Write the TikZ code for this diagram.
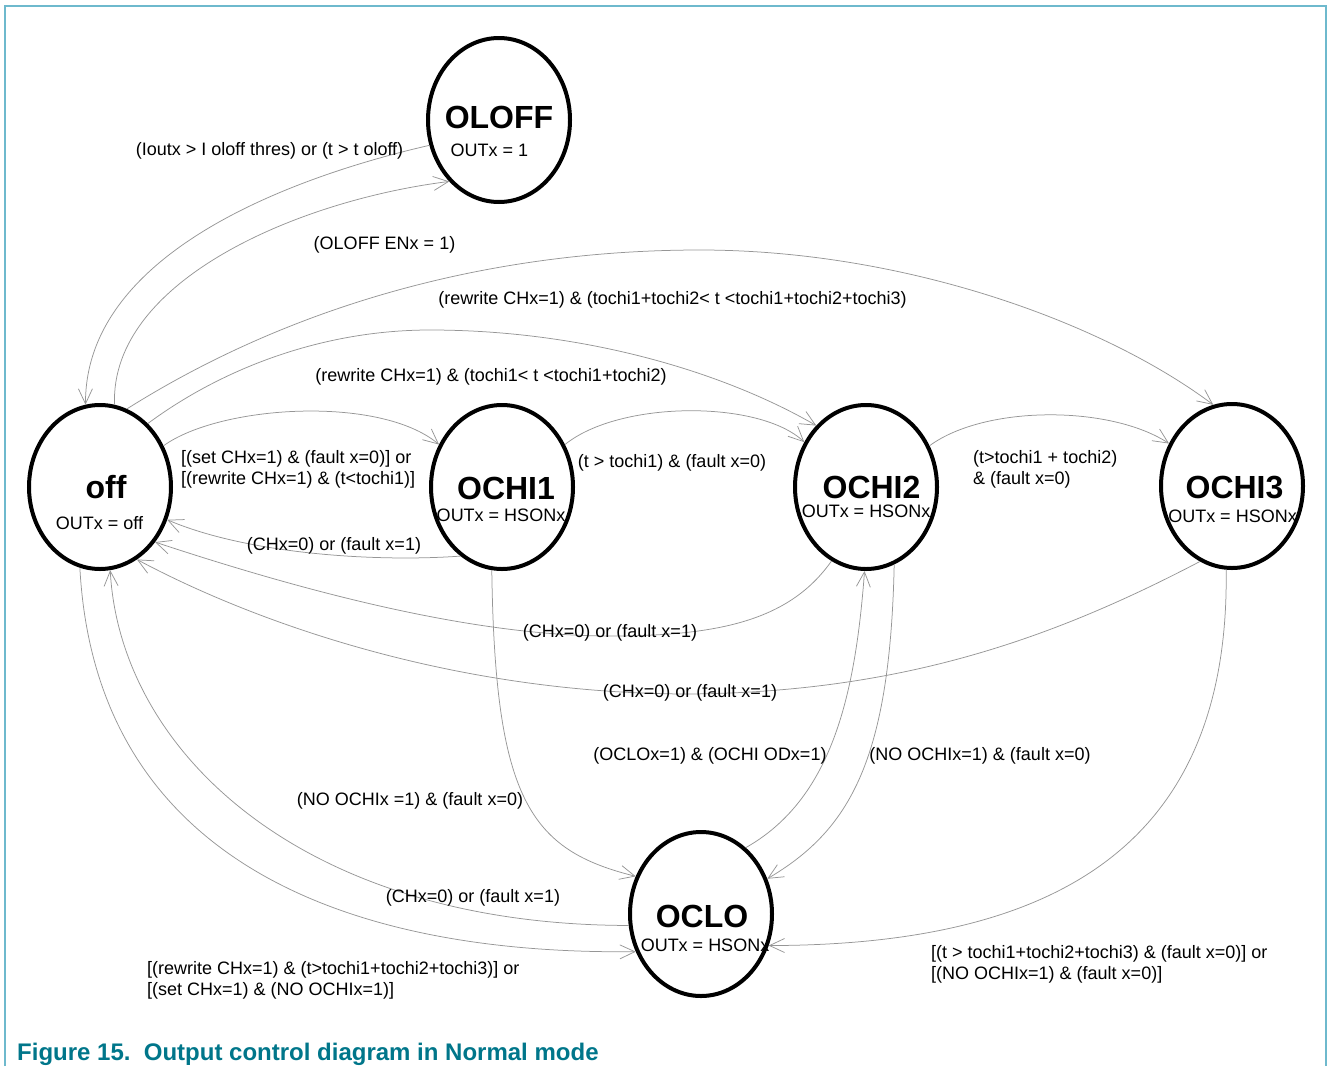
\documentclass[tikz,border=0pt]{standalone}
\usepackage{fontspec}
\setmainfont{Liberation Sans}
\usetikzlibrary{arrows.meta,shapes.geometric}
\definecolor{edgegray}{RGB}{150,150,150}
\definecolor{framecol}{RGB}{110,185,205}
\definecolor{capcol}{RGB}{0,118,138}

\begin{document}
\begin{tikzpicture}[x=1pt,y=-1pt,
  state/.style={ellipse,draw=black,line width=4pt,minimum width=142pt,minimum height=164pt,inner sep=0pt},
  title/.style={font=\fontsize{32}{34}\selectfont\bfseries,inner sep=0pt},
  sub/.style={font=\fontsize{18}{20}\selectfont,inner sep=0pt},
  lab/.style={font=\fontsize{18}{21}\selectfont,inner sep=0pt,yshift=-2pt},
  lablines/.style={lab,align=left,anchor=west},
  trans/.style={draw=edgegray,line width=0.75pt,-{Straight Barb[length=15pt,width=14pt]}}
]
\useasboundingbox (0,0) rectangle (1328,1066);

% frame
\draw[framecol,line width=1.5pt] (5,1066) -- (5,6) -- (1326,6) -- (1326,1066);

% states
\node[state] (oloff) at (499,120) {};
\node[state] (off)   at (100,487) {};
\node[state] (ochi1) at (502,487) {};
\node[state] (ochi2) at (866,487) {};
\node[state] (ochi3) at (1232,486) {};
\node[state] (oclo)  at (701,914) {};

% state texts
\node[title] (oloff-t) at (499,117) {OLOFF};
\node[sub]   (oloff-s) at (489.5,150) {OUTx = 1};
\node[title] (off-t)   at (106,487.5) {off};
\node[sub]   (off-s)   at (99.5,523) {OUTx = off};
\node[title] (ochi1-t) at (506,488) {OCHI1};
\node[sub]   (ochi1-s) at (501,515) {OUTx = HSONx};
\node[title] (ochi2-t) at (871.5,487.5) {OCHI2};
\node[sub]   (ochi2-s) at (866,511) {OUTx = HSONx};
\node[title] (ochi3-t) at (1234.5,487.5) {OCHI3};
\node[sub]   (ochi3-s) at (1232.5,516) {OUTx = HSONx};
\node[title] (oclo-t)  at (702,916.5) {OCLO};
\node[sub]   (oclo-s)  at (705,945) {OUTx = HSONx};

% transitions
\draw[trans] (oloff.200) .. controls (300,175) and (85,250) .. (off.100);
\draw[trans] (off.80) .. controls (110,280) and (300,200) .. (oloff.231);
\draw[trans] (off.71) .. controls (300,300) and (500,250) .. (700,250)
                      .. controls (900,250) and (1100,320) .. (ochi3.103);
\draw[trans] (off.53) .. controls (220,370) and (320,330) .. (430,330)
                      .. controls (580,330) and (720,370) .. (ochi2.129);
\draw[trans] (off.33) .. controls (220,405) and (380,395) .. (ochi1.146);
\draw[trans] (ochi1.239) .. controls (380,562) and (250,555) .. (off.-26);
\draw[trans] (ochi1.34) .. controls (620,400) and (760,400) .. (ochi2.144);
\draw[trans] (ochi2.33) .. controls (985,405) and (1110,405) .. (ochi3.146);
\draw[trans] (ochi2.245) .. controls (790,620) and (720,636) .. (610,636)
                         .. controls (470,636) and (300,590) .. (off.-45);
\draw[trans] (ochi3.247) .. controls (1050,640) and (900,692) .. (690,694)
                         .. controls (450,694) and (250,620) .. (off.-63);
\draw[trans] (off.256) .. controls (95,850) and (330,955) .. (oclo.210);
\draw[trans] (oclo.189) .. controls (300,925) and (120,750) .. (off.-83);
\draw[trans] (ochi1.263) .. controls (495,800) and (530,850) .. (oclo.150);
\draw[trans] (ochi2.-70) .. controls (890,760) and (850,830) .. (oclo.28);
\draw[trans] (oclo.56) .. controls (830,800) and (855,700) .. (ochi2.269);
\draw[trans] (ochi3.266) .. controls (1230,850) and (1050,945) .. (oclo.-25);

% transition labels
\node[lab] (l1)  at (269.5,149) {(Ioutx > I oloff thres) or (t > t oloff)};
\node[lab] (l2)  at (384.5,243) {(OLOFF ENx = 1)};
\node[lab] (l3)  at (672.5,298) {(rewrite CHx=1) \& (tochi1+tochi2< t <tochi1+tochi2+tochi3)};
\node[lab] (l4)  at (491,375) {(rewrite CHx=1) \& (tochi1< t <tochi1+tochi2)};
\node[lablines] (l5) at (181,467.5) {{[}(set CHx=1) \& (fault x=0)] or\\{[}(rewrite CHx=1) \& (t<tochi1)]};
\node[lab] (l6)  at (334,544) {(CHx=0) or (fault x=1)};
\node[lab] (l7)  at (672,461) {(t > tochi1) \& (fault x=0)};
\node[lablines] (l8) at (973,467.5) {(t>tochi1 + tochi2)\\\& (fault x=0)};
\node[lab] (l9)  at (610,631) {(CHx=0) or (fault x=1)};
\node[lab] (l10) at (690,691) {(CHx=0) or (fault x=1)};
\node[lab] (l11) at (710,754) {(OCLOx=1) \& (OCHI ODx=1)};
\node[lab] (l12) at (980,754) {(NO OCHIx=1) \& (fault x=0)};
\node[lab] (l13) at (410,799) {(NO OCHIx =1) \& (fault x=0)};
\node[lab] (l14) at (473,896) {(CHx=0) or (fault x=1)};
\node[lablines] (l15) at (147,978.5) {{[}(rewrite CHx=1) \& (t>tochi1+tochi2+tochi3)] or\\{[}(set CHx=1) \& (NO OCHIx=1)]};
\node[lablines] (l16) at (931,962) {{[}(t > tochi1+tochi2+tochi3) \& (fault x=0)] or\\{[}(NO OCHIx=1) \& (fault x=0)]};

% caption
\node[anchor=base west,inner sep=0pt,text=capcol,font=\fontsize{24}{26}\selectfont\bfseries] (cap) at (17,1060)
  {Figure 15.\ \ Output control diagram in Normal mode};
\end{tikzpicture}
\end{document}
